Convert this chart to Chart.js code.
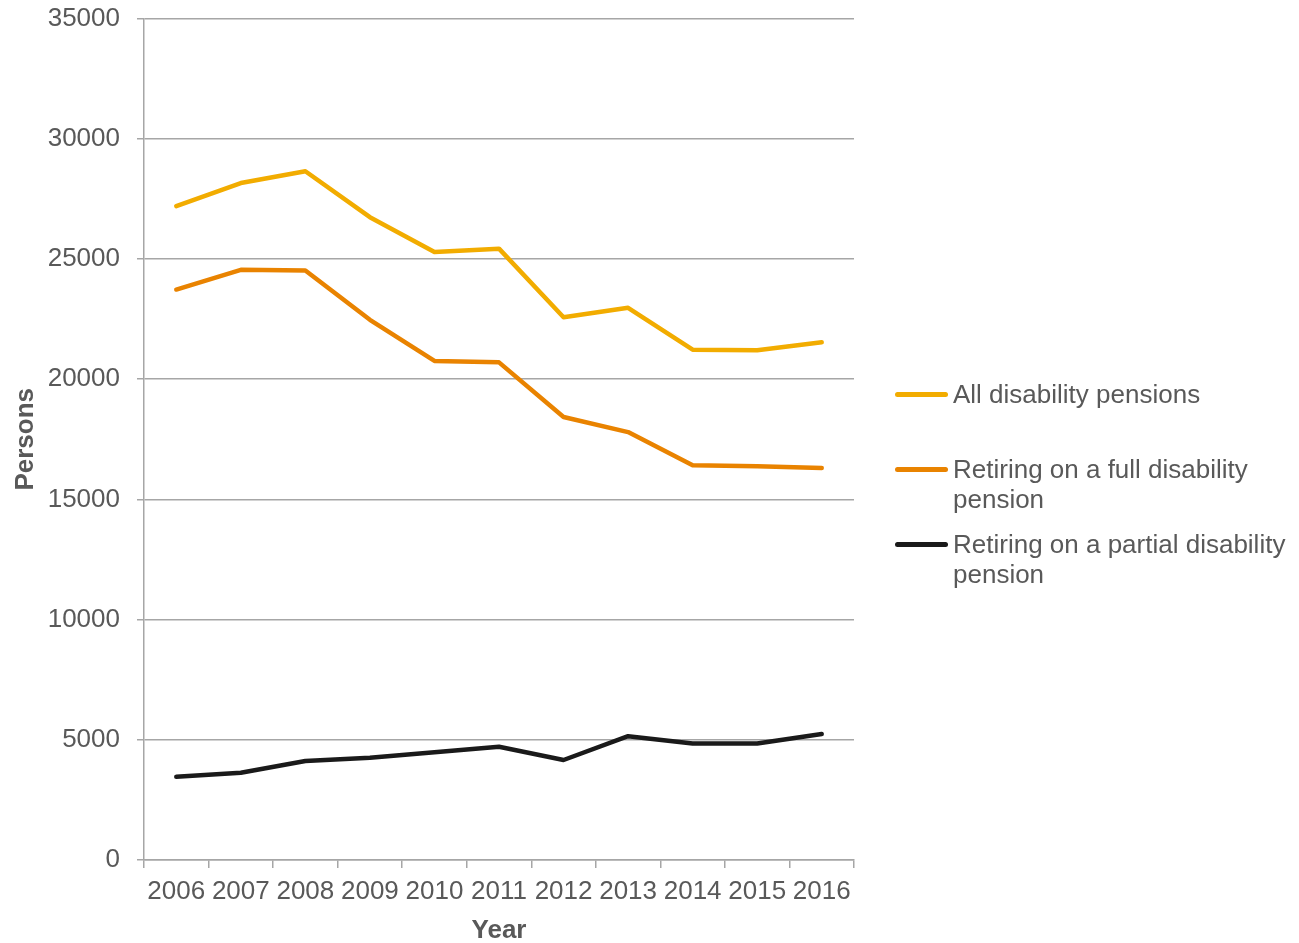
<!DOCTYPE html>
<html>
<head>
<meta charset="utf-8">
<title>Disability pensions</title>
<script src="https://cdn.jsdelivr.net/npm/chart.js@4.4.1/dist/chart.umd.min.js"></script>
<style>
    body { margin: 0; background: #fff; font-family: "Liberation Sans", Arial, sans-serif; overflow: hidden; }
    #wrap { position: relative; width: 1299px; height: 943px; overflow: hidden; }
    /* canvas shifted up so that the plot top lands where the reference has it */
    #canvasBox { position: absolute; left: 0; top: -14px; width: 1299px; height: 957px; }
    #legend { position: absolute; left: 895px; top: 379px; width: 404px; }
    .item { position: absolute; left: 0; color: #595959; font-size: 26px; line-height: 30px; }
    .item .swatch { position: absolute; left: 0; top: 13px; width: 53px; height: 5px; border-radius: 2.5px; }
    .item .txt { margin-left: 58px; white-space: nowrap; }
</style>
</head>
<body>
<div id="wrap">
    <div id="canvasBox"><canvas id="pensionChart"></canvas></div>
    <div id="legend"></div>
</div>
<script>
// ---------------- data ----------------
const years = ['2006', '2007', '2008', '2009', '2010', '2011', '2012', '2013', '2014', '2015', '2016'];
const allPensions = [27200, 28160, 28650, 26740, 25290, 25430, 22580, 22970, 21230, 21200, 21540];
const fullPensions = [23730, 24550, 24520, 22470, 20760, 20700, 18430, 17800, 16420, 16380, 16310];
const partialPensions = [3460, 3630, 4120, 4250, 4480, 4710, 4160, 5150, 4850, 4850, 5240];
const seriesNames = [
    'All disability pensions',
    ['Retiring on a full disability', 'pension'],
    ['Retiring on a partial disability', 'pension']
];
const seriesColors = ['#f2ac00', '#e98300', '#1a1a1a'];

const axisGrey = '#a6a6a6';
const textGrey = '#595959';
const fontFamily = '"Liberation Sans", Arial, sans-serif';

function makeDataset(i, values) {
    return {
        label: Array.isArray(seriesNames[i]) ? seriesNames[i].join(' ') : seriesNames[i],
        data: values,
        borderColor: seriesColors[i],
        backgroundColor: seriesColors[i],
        borderWidth: 4.5,
        borderCapStyle: 'round',
        borderJoinStyle: 'round',
        pointRadius: 0,
        tension: 0,
        fill: false
    };
}

new Chart(document.getElementById('pensionChart'), {
    type: 'line',
    data: {
        labels: years,
        datasets: [
            makeDataset(0, allPensions),
            makeDataset(1, fullPensions),
            makeDataset(2, partialPensions)
        ]
    },
    options: {
        responsive: true,
        maintainAspectRatio: false,
        animation: false,
        layout: { padding: { top: 4, right: 445, left: 0, bottom: 0 } },
        plugins: {
            legend: { display: false },
            tooltip: { enabled: false }
        },
        scales: {
            x: {
                offset: true,
                grid: {
                    offset: true,
                    drawOnChartArea: false,
                    drawTicks: true,
                    tickLength: 8,
                    color: axisGrey,
                    lineWidth: 1.5
                },
                border: { display: true, color: axisGrey, width: 1.5 },
                ticks: {
                    color: textGrey,
                    font: { family: fontFamily, size: 26 },
                    padding: 8,
                    maxRotation: 0,
                    autoSkip: false
                },
                title: {
                    display: true,
                    text: 'Year',
                    color: textGrey,
                    font: { family: fontFamily, size: 26, weight: 'bold' },
                    padding: { top: 4, bottom: -3 }
                },
                afterFit: function(scale) { scale.height = 83; }
            },
            y: {
                min: 0,
                max: 35000,
                grid: {
                    color: axisGrey,
                    lineWidth: 1.5,
                    drawTicks: true,
                    tickLength: 7
                },
                border: { display: true, color: axisGrey, width: 1.5 },
                ticks: {
                    stepSize: 5000,
                    color: textGrey,
                    font: { family: fontFamily, size: 26 },
                    padding: 17,
                    callback: function(value) { return String(value); }
                },
                title: {
                    display: true,
                    text: 'Persons',
                    color: textGrey,
                    font: { family: fontFamily, size: 26, weight: 'bold' },
                    padding: { top: 10, bottom: 0 }
                },
                afterFit: function(scale) { scale.width = 144; }
            }
        }
    }
});

// legend built from the same series names and colours
const legendTops = [0, 75, 150];
const legendEl = document.getElementById('legend');
seriesNames.forEach(function(name, i) {
    const item = document.createElement('div');
    item.className = 'item';
    item.style.top = legendTops[i] + 'px';
    const lines = Array.isArray(name) ? name : [name];
    item.innerHTML = '<div class="swatch" style="background:' + seriesColors[i] + '"></div>' +
        '<div class="txt">' + lines.join('<br>') + '</div>';
    legendEl.appendChild(item);
});
</script>
</body>
</html>
